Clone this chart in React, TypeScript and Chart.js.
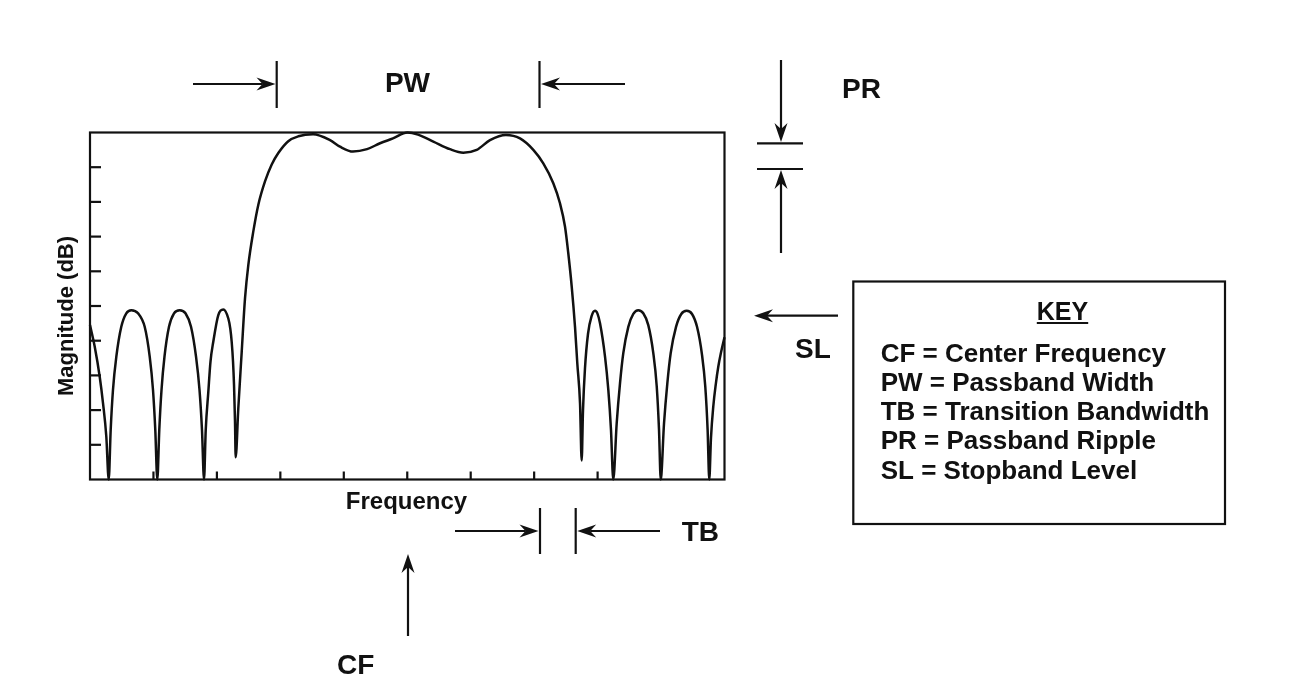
import React, { useEffect, useRef } from "react";
import { Chart, registerables } from "chart.js";

Chart.register(...registerables);

// Frequency axis positions (arbitrary units 0..10) and magnitude readings (0..10 grid units)
const frequency = [
  0, 0.074, 0.153, 0.205, 0.257, 0.295,
  0.326, 0.362, 0.415, 0.493, 0.572, 0.651, 0.757, 0.862, 0.941, 0.993, 1.029, 1.061,
  1.092, 1.127, 1.174, 1.245, 1.324, 1.414, 1.505, 1.592, 1.671, 1.726, 1.765, 1.797,
  1.824, 1.865, 1.899, 1.943, 2.022, 2.101, 2.18, 2.211, 2.233, 2.254, 2.27, 2.285, 2.296,
  2.337, 2.391, 2.443, 2.495, 2.574, 2.653, 2.758, 2.864, 2.968, 3.125, 3.283, 3.515,
  3.783, 3.94, 4.145, 4.366, 4.571, 4.775, 5.004, 5.169, 5.411, 5.674, 5.883, 6.095, 6.304, 6.556, 6.777, 6.987,
  7.144, 7.302, 7.407, 7.486, 7.538, 7.592, 7.644, 7.68, 7.723, 7.749,
  7.77, 7.801, 7.849, 7.904, 7.959, 7.998, 8.038, 8.117, 8.169, 8.211, 8.247,
  8.301, 8.353, 8.405, 8.484, 8.563, 8.641, 8.72, 8.799, 8.878, 8.932, 8.968, 8.995,
  9.047, 9.099, 9.152, 9.236, 9.319, 9.404, 9.488, 9.567, 9.645, 9.697, 9.734, 9.76,
  9.787, 9.823, 9.863, 9.902, 9.944, 10,
];

const magnitude = [
  4.45, 3.83, 2.96, 2.2, 1.24, 0,
  1.43, 2.58, 3.54, 4.4, 4.79, 4.88, 4.79, 4.4, 3.54, 2.58, 1.43, 0,
  1.43, 2.58, 3.54, 4.4, 4.79, 4.88, 4.79, 4.4, 3.54, 2.58, 1.43, 0,
  1.43, 2.53, 3.4, 3.97, 4.74, 4.9, 4.64, 4.35, 3.97, 3.4, 2.72, 1.7, 0.64,
  2.04, 3.68, 5.22, 6.18, 7.15, 7.92, 8.59, 9.08, 9.41, 9.75, 9.89, 9.95,
  9.78, 9.59, 9.45, 9.52, 9.69, 9.83, 10.0, 9.94, 9.74, 9.52, 9.42, 9.5, 9.78, 9.93, 9.83, 9.5,
  9.11, 8.54, 7.96, 7.29, 6.52, 5.56, 4.4, 3.35, 2.2, 0.55,
  2.0, 3.2, 4.2, 4.7, 4.86, 4.78, 4.5, 3.54, 2.58, 1.43, 0,
  1.62, 2.77, 3.64, 4.4, 4.77, 4.88, 4.79, 4.45, 3.64, 2.68, 1.43, 0,
  1.62, 2.77, 3.64, 4.4, 4.77, 4.86, 4.77, 4.4, 3.6, 2.68, 1.43, 0,
  1.2, 2.1, 2.75, 3.25, 3.65, 4.1,
];

const xTicks = [1, 2, 3, 4, 5, 6, 7, 8, 9];
const yTicks = [1, 2, 3, 4, 5, 6, 7, 8, 9];

const xTitle = "Frequency";
const yTitle = "Magnitude (dB)";
const keyTitle = "KEY";
const keyLines = [
  "CF = Center Frequency",
  "PW = Passband Width",
  "TB = Transition Bandwidth",
  "PR = Passband Ripple",
  "SL = Stopband Level",
];

const INK = "#111111";
const FONT = '"Liberation Sans", Arial, Helvetica, sans-serif';

function arrow(ctx: CanvasRenderingContext2D, x1: number, y1: number, x2: number, y2: number) {
  const ang = Math.atan2(y2 - y1, x2 - x1);
  const L = 19, W = 6.5, N = 13;
  ctx.beginPath();
  ctx.moveTo(x1, y1);
  ctx.lineTo(x2 - Math.cos(ang) * N, y2 - Math.sin(ang) * N);
  ctx.stroke();
  ctx.save();
  ctx.translate(x2, y2);
  ctx.rotate(ang);
  ctx.beginPath();
  ctx.moveTo(0, 0);
  ctx.lineTo(-L, -W);
  ctx.lineTo(-N, 0);
  ctx.lineTo(-L, W);
  ctx.closePath();
  ctx.fill();
  ctx.restore();
}

function line(ctx: CanvasRenderingContext2D, x1: number, y1: number, x2: number, y2: number) {
  ctx.beginPath();
  ctx.moveTo(x1, y1);
  ctx.lineTo(x2, y2);
  ctx.stroke();
}

const diagramPlugin = {
  id: "diagram",
  afterDraw(chart: any) {
    const ctx: CanvasRenderingContext2D = chart.ctx;
    const { left, top, right, bottom } = chart.chartArea;
    const xs = chart.scales.x;
    const ys = chart.scales.y;
    ctx.save();
    ctx.strokeStyle = INK;
    ctx.fillStyle = INK;
    ctx.lineWidth = 2.2;
    ctx.lineCap = "butt";

    // frame
    ctx.strokeRect(left, top, right - left, bottom - top);

    // inner ticks
    for (const v of xTicks) {
      const px = xs.getPixelForValue(v);
      line(ctx, px, bottom, px, bottom - 8);
    }
    for (const v of yTicks) {
      const py = ys.getPixelForValue(v);
      line(ctx, left, py, left + 11, py);
    }

    // axis titles
    ctx.textBaseline = "alphabetic";
    ctx.font = `bold 24px ${FONT}`;
    ctx.textAlign = "center";
    ctx.fillText(xTitle, 406.5, 509);

    ctx.save();
    ctx.translate(73, 316);
    ctx.rotate(-Math.PI / 2);
    ctx.font = `bold 22px ${FONT}`;
    ctx.textAlign = "center";
    ctx.fillText(yTitle, 0, 0);
    ctx.restore();

    // PW
    line(ctx, 276.7, 61, 276.7, 108);
    line(ctx, 539.5, 61, 539.5, 108);
    arrow(ctx, 193, 84, 275.5, 84);
    arrow(ctx, 625, 84, 541, 84);
    ctx.font = `bold 28px ${FONT}`;
    ctx.textAlign = "center";
    ctx.fillText("PW", 407.5, 92);

    // PR
    arrow(ctx, 781, 60, 781, 142);
    line(ctx, 757, 143.3, 803, 143.3);
    line(ctx, 757, 169, 803, 169);
    arrow(ctx, 781, 253, 781, 170);
    ctx.textAlign = "left";
    ctx.fillText("PR", 842, 98);

    // SL
    arrow(ctx, 838, 315.7, 754, 315.7);
    ctx.fillText("SL", 795, 358);

    // TB
    line(ctx, 540, 508, 540, 554);
    line(ctx, 575.7, 508, 575.7, 554);
    arrow(ctx, 455, 531, 538.5, 531);
    arrow(ctx, 660, 531, 577.2, 531);
    ctx.fillText("TB", 681.7, 540.7);

    // CF
    arrow(ctx, 408, 636, 408, 554);
    ctx.fillText("CF", 337, 674);

    // KEY box
    ctx.strokeRect(853.3, 281.5, 1225 - 853.3, 524 - 281.5);
    ctx.font = `bold 25px ${FONT}`;
    ctx.textAlign = "center";
    ctx.fillText(keyTitle, 1062.5, 320);
    const kw = ctx.measureText(keyTitle).width;
    line(ctx, 1062.5 - kw / 2, 323, 1062.5 + kw / 2, 323);
    ctx.textAlign = "left";
    ctx.font = `bold 26px ${FONT}`;
    const baselines = [361.7, 390.9, 420.1, 449.3, 478.5];
    keyLines.forEach((t, i) => ctx.fillText(t, 880.7, baselines[i]));

    ctx.restore();
  },
};

export default function App() {
  const canvasRef = useRef<HTMLCanvasElement | null>(null);

  useEffect(() => {
    const canvas = canvasRef.current;
    if (!canvas) return;
    const points = frequency.map((x, i) => ({ x, y: magnitude[i] }));
    const chart = new Chart(canvas, {
      type: "line",
      data: {
        datasets: [
          {
            data: points,
            borderColor: INK,
            borderWidth: 2.5,
            pointRadius: 0,
            fill: false,
            cubicInterpolationMode: "monotone",
            clip: 4,
          },
        ],
      },
      options: {
        animation: false,
        responsive: false,
        devicePixelRatio: 1,
        layout: {
          autoPadding: false,
          padding: { left: 90, top: 132.5, right: 1289 - 724.5, bottom: 687 - 479.5 },
        },
        scales: {
          x: { type: "linear", min: 0, max: 10, display: false },
          y: { type: "linear", min: 0, max: 10, display: false },
        },
        plugins: {
          legend: { display: false },
          tooltip: { enabled: false },
        },
        events: [],
      },
      plugins: [diagramPlugin],
    });
    return () => chart.destroy();
  }, []);

  return (
    <div style={{ position: "fixed", left: 0, top: 0, width: 1289, height: 687, background: "#ffffff" }}>
      <canvas ref={canvasRef} width={1289} height={687} style={{ width: 1289, height: 687, display: "block" }} />
    </div>
  );
}
